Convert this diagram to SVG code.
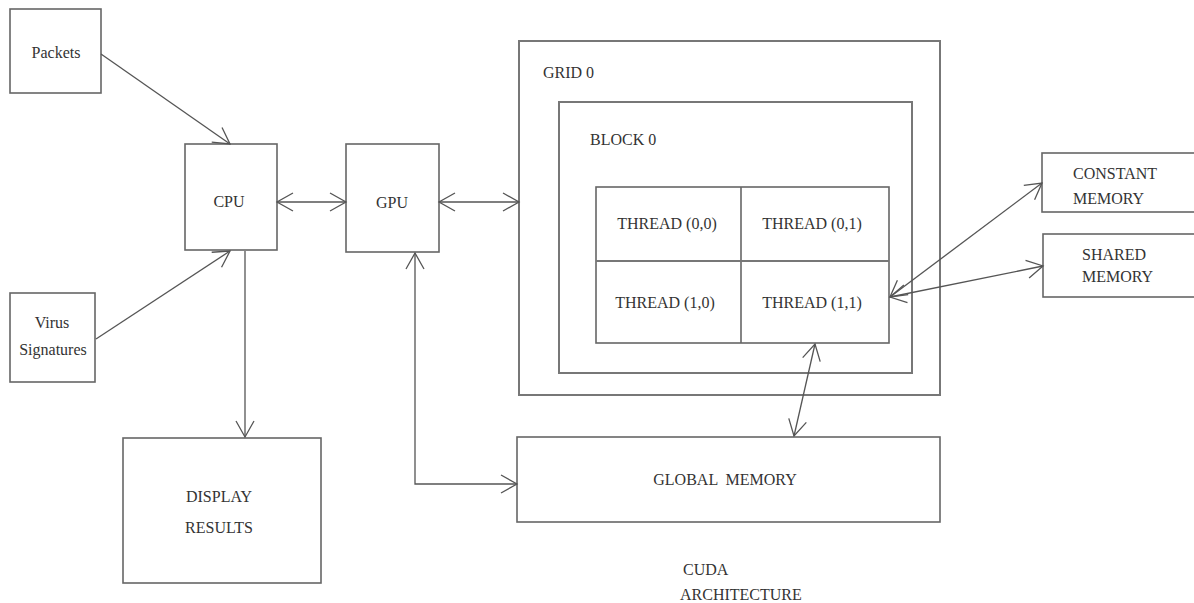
<svg xmlns="http://www.w3.org/2000/svg" width="1194" height="603" viewBox="0 0 1194 603">
<defs>
<style>
.box{fill:none;stroke:#666;stroke-width:1.6}
.frame{fill:none;stroke:#777;stroke-width:2}
.t{font-family:"Liberation Serif","Times New Roman",serif;font-size:16px;fill:#333}
.c{text-anchor:middle}
.ln{fill:none;stroke:#555;stroke-width:1.3}
</style>
<marker id="ah" viewBox="-18 -11 20 22" refX="0" refY="0" markerWidth="20" markerHeight="22" markerUnits="userSpaceOnUse" orient="auto-start-reverse">
<path d="M-16,-9 L0,0 L-16,9" fill="none" stroke="#555" stroke-width="1.3"/>
</marker>
</defs>
<rect width="1194" height="603" fill="#fff"/>

<g id="packets"><rect class="box" x="10" y="9" width="91" height="84"/><text class="t c" x="56" y="58">Packets</text></g>
<g id="cpu"><rect class="box" x="185" y="144" width="92" height="106"/><text class="t c" x="229" y="207">CPU</text></g>
<g id="virus"><rect class="box" x="10" y="293" width="85" height="89"/><text class="t c" x="52" y="328">Virus</text><text class="t c" x="53" y="355">Signatures</text></g>
<g id="gpu"><rect class="box" x="346" y="144" width="93" height="108"/><text class="t c" x="392" y="208">GPU</text></g>
<g id="display"><rect class="box" x="123" y="438" width="198" height="145"/><text class="t c" x="219" y="502">DISPLAY</text><text class="t c" x="219" y="533">RESULTS</text></g>
<g id="grid"><rect class="frame" x="519" y="41" width="421" height="354"/><text class="t" x="543" y="78">GRID 0</text></g>
<g id="block"><rect class="frame" x="559" y="102" width="353" height="271"/><text class="t" x="590" y="145">BLOCK 0</text></g>
<g id="threads">
<rect class="box" x="596" y="187" width="293" height="156"/>
<line class="box" x1="741" y1="187" x2="741" y2="343"/>
<line class="frame" x1="596" y1="261" x2="889" y2="261"/>
<text class="t c" x="667" y="229">THREAD (0,0)</text>
<text class="t c" x="812" y="229">THREAD (0,1)</text>
<text class="t c" x="665" y="308">THREAD (1,0)</text>
<text class="t c" x="812" y="308">THREAD (1,1)</text>
</g>
<g id="constant"><rect class="box" x="1042" y="153" width="170" height="59"/><text class="t" x="1073" y="179">CONSTANT</text><text class="t" x="1073" y="204">MEMORY</text></g>
<g id="shared"><rect class="box" x="1043" y="234" width="170" height="63"/><text class="t" x="1082" y="260">SHARED</text><text class="t" x="1082" y="282">MEMORY</text></g>
<g id="global"><rect class="box" x="517" y="437" width="423" height="85"/><text class="t c" x="725" y="485" xml:space="preserve">GLOBAL  MEMORY</text></g>
<g id="caption"><text class="t" x="683" y="575">CUDA</text><text class="t" x="680" y="600">ARCHITECTURE</text></g>

<g id="connectors">
<line class="ln" x1="101" y1="54" x2="230" y2="144" marker-end="url(#ah)"/>
<line class="ln" x1="96" y1="339" x2="230" y2="251" marker-end="url(#ah)"/>
<line class="ln" x1="277" y1="202" x2="346" y2="202" marker-start="url(#ah)" marker-end="url(#ah)"/>
<line class="ln" x1="439" y1="202" x2="519" y2="202" marker-start="url(#ah)" marker-end="url(#ah)"/>
<line class="ln" x1="245" y1="251" x2="245" y2="437" marker-end="url(#ah)"/>
<path class="ln" d="M415,253 V484 H517" marker-start="url(#ah)" marker-end="url(#ah)"/>
<line class="ln" x1="815" y1="344" x2="794" y2="436" marker-start="url(#ah)" marker-end="url(#ah)"/>
<line class="ln" x1="890" y1="297" x2="1042" y2="183" marker-start="url(#ah)" marker-end="url(#ah)"/>
<line class="ln" x1="890" y1="297" x2="1043" y2="266" marker-start="url(#ah)" marker-end="url(#ah)"/>
</g>
</svg>
